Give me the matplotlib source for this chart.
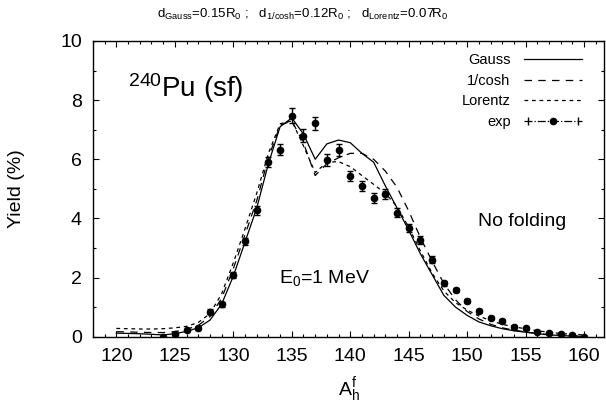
import matplotlib
matplotlib.use('Agg')
from matplotlib import pyplot as plt
from matplotlib.lines import Line2D
from matplotlib.legend_handler import HandlerLine2D, HandlerTuple
import matplotlib.ticker as ticker

plt.rcParams['font.family'] = ['Liberation Sans', 'DejaVu Sans']
plt.rcParams['mathtext.fontset'] = 'custom'
plt.rcParams['mathtext.rm'] = 'Liberation Sans'
plt.rcParams['mathtext.it'] = 'Liberation Sans:italic'

# model curves, A = 120..160
a_calc = list(range(120, 161))
y_gauss = [0.12, 0.11, 0.1, 0.08, 0.06, 0.1, 0.18, 0.3, 0.56, 1.1,
           2.05, 3.2, 4.35, 5.85, 7.1, 7.4, 6.85, 6.0, 6.52, 6.65,
           6.56, 6.2, 5.9, 5.1, 4.35, 3.6, 2.8, 2.1, 1.4, 1.0,
           0.72, 0.5, 0.37, 0.27, 0.2, 0.15, 0.1, 0.06, 0.04, 0.02, 0.01]
y_cosh = [0.17, 0.16, 0.15, 0.14, 0.14, 0.17, 0.25, 0.38, 0.68, 1.3,
          2.3, 3.45, 4.6, 6.05, 7.15, 7.3, 6.55, 5.45, 5.85, 6.05,
          6.2, 6.2, 6.0, 5.6, 5.05, 4.25, 3.35, 2.55, 1.8, 1.25,
          0.85, 0.6, 0.42, 0.3, 0.22, 0.16, 0.11, 0.07, 0.05, 0.03, 0.02]
y_lorentz = [0.28, 0.27, 0.26, 0.26, 0.27, 0.3, 0.35, 0.48, 0.78, 1.45,
             2.5, 3.65, 4.85, 6.2, 7.2, 7.3, 6.45, 5.55, 5.9, 5.92,
             5.75, 5.45, 5.15, 4.85, 4.4, 3.7, 2.9, 2.15, 1.55, 1.15,
             0.9, 0.7, 0.54, 0.42, 0.33, 0.27, 0.2, 0.15, 0.11, 0.08, 0.06]

# experimental data
exp_a = list(range(124, 161))
exp_y = [0.0, 0.09, 0.23, 0.28, 0.85, 1.09, 2.08, 3.23, 4.28, 5.91,
         6.33, 7.47, 6.79, 7.21, 5.97, 6.31, 5.43, 5.09, 4.70, 4.81,
         4.19, 3.68, 3.27, 2.61, 1.80, 1.58, 1.21, 0.88, 0.64, 0.54,
         0.34, 0.28, 0.17, 0.11, 0.08, 0.06, 0.0]
exp_err = [0.02, 0.03, 0.04, 0.05, 0.07, 0.08, 0.1, 0.12, 0.15, 0.18,
           0.2, 0.25, 0.22, 0.22, 0.2, 0.2, 0.18, 0.18, 0.17, 0.17,
           0.15, 0.14, 0.12, 0.12, 0.1, 0.08, 0.07, 0.06, 0.05, 0.05,
           0.04, 0.04, 0.03, 0.03, 0.02, 0.02, 0.01]

fig = plt.figure(figsize=(6.06, 4.09), dpi=100)
ax = fig.add_axes([0.1535, 0.1768, 0.8432, 0.723])

ax.plot(a_calc, y_gauss, color='black', lw=0.9, label='Gauss')
ax.plot(a_calc, y_cosh, color='black', lw=0.9, dashes=(6, 5), label='1/cosh')
ax.plot(a_calc, y_lorentz, color='black', lw=0.9, dashes=(3, 3), label='Lorentz')
ax.errorbar(exp_a, exp_y, yerr=exp_err, fmt='o', color='black', ms=4.5,
            elinewidth=1, capsize=2.5, capthick=1)

ax.set_xlim(118, 161.7)
ax.set_ylim(0, 10)
ax.xaxis.set_major_locator(ticker.MultipleLocator(5))
ax.xaxis.set_minor_locator(ticker.MultipleLocator(1))
ax.yaxis.set_major_locator(ticker.MultipleLocator(2))
ax.yaxis.set_minor_locator(ticker.MultipleLocator(1))
ax.tick_params(which='both', direction='in', top=True, right=True,
               labelsize=14, pad=8)
ax.tick_params(which='major', length=4, width=0.8)
ax.tick_params(which='minor', length=2, width=0.8)
for s in ax.spines.values():
    s.set_linewidth(1)

ax.set_ylabel('Yield (%)', fontsize=14)
ax.yaxis.set_label_coords(-0.133, 0.5)
ax.set_xlabel(r'A$_{\rm h}^{\rm f}$', fontsize=14, va='top')
ax.xaxis.set_label_coords(0.5, -0.13)

fig.text(0.5, 0.956,
         r'd$_{\rm Gauss}$=0.15R$_{\rm 0}$ ;   d$_{\rm 1/cosh}$=0.12R$_{\rm 0}$ ;   '
         r'd$_{\rm Lorentz}$=0.07R$_{\rm 0}$',
         ha='center', va='baseline', fontsize=9.5)

ax.text(0.068, 0.81, r'$^{\rm 240}$Pu (sf)', transform=ax.transAxes,
        fontsize=20, va='baseline')
ax.text(0.364, 0.182, r'E$_{\rm 0}$=1 MeV', transform=ax.transAxes,
        fontsize=14, va='baseline')
ax.text(0.753, 0.374, 'No folding', transform=ax.transAxes,
        fontsize=14, va='baseline')

# legend in gnuplot style
h_gauss = Line2D([], [], color='black', lw=0.9)
h_cosh = Line2D([], [], color='black', lw=0.9, dashes=(6, 5))
h_lor = Line2D([], [], color='black', lw=0.9, dashes=(3, 3))
h_exp_line = Line2D([], [], color='black', lw=0.9, ls='-.', marker='o', ms=4.5)
h_exp_caps = Line2D([], [], color='none', marker='|', ms=6,
                    markeredgecolor='black', markeredgewidth=1)
leg = ax.legend([h_gauss, h_cosh, h_lor, (h_exp_line, h_exp_caps)],
                ['Gauss', '1/cosh', 'Lorentz', 'exp'],
                handler_map={tuple: HandlerTuple(ndivide=1, pad=0),
                             h_exp_caps: HandlerLine2D(numpoints=2)},
                loc='upper right', bbox_to_anchor=(0.957, 0.959),
                frameon=False, markerfirst=False, fontsize=10.5,
                handlelength=4.0, handletextpad=0.9, labelspacing=0.45,
                borderpad=0, borderaxespad=0, numpoints=1)

fig.savefig('out.png', dpi=100)
